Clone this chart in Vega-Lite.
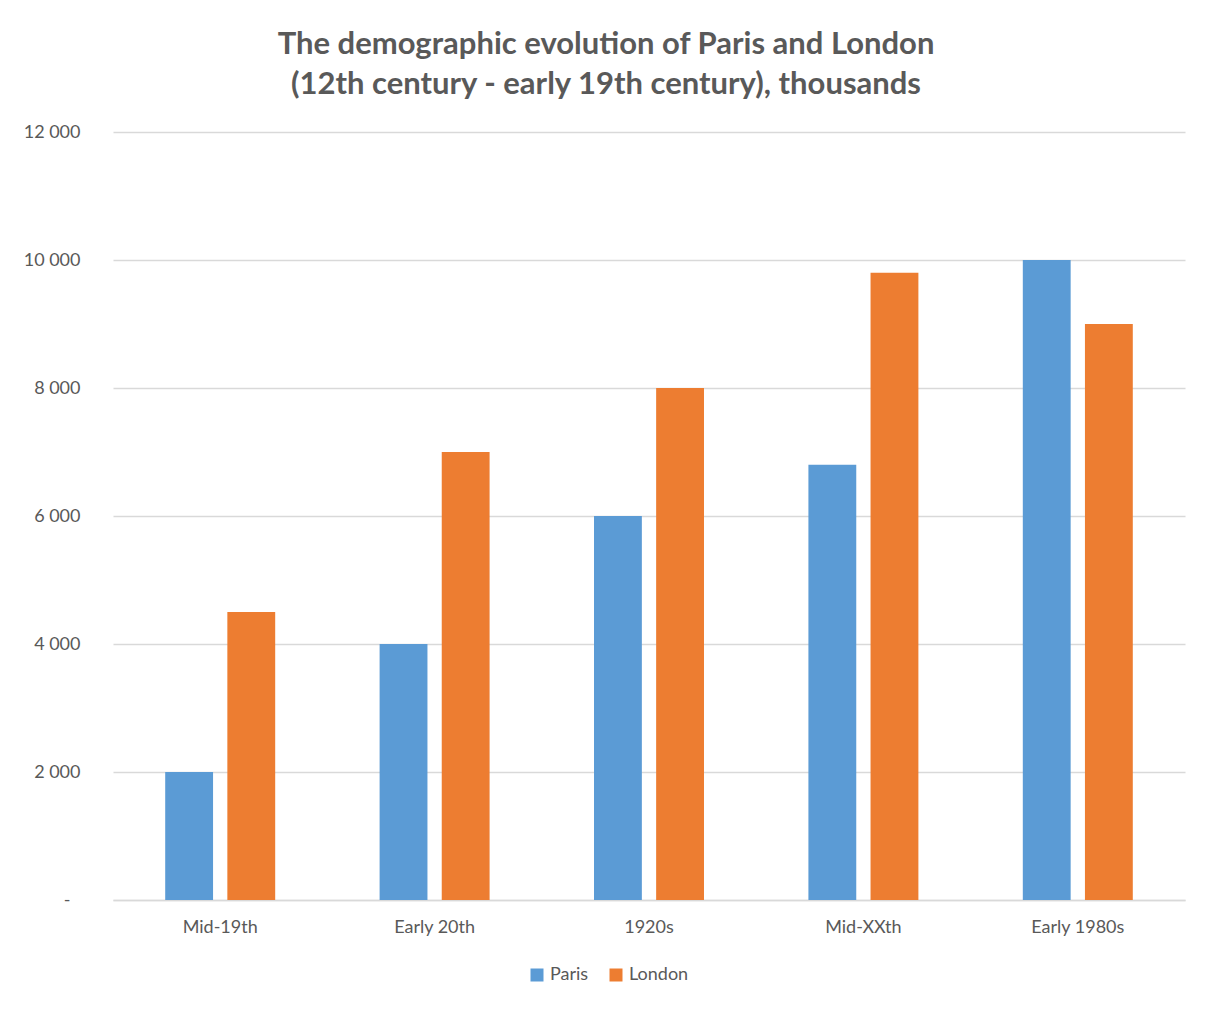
{
  "$schema": "https://vega.github.io/schema/vega-lite/v6.json",
  "autosize": {"type": "none"},
  "width": 1072,
  "height": 768,
  "padding": {"left": 113, "top": 132, "right": 26, "bottom": 110},
  "background": "white",
  "title": {
    "text": ["The demographic evolution of Paris and London", "(12th century - early 19th century), thousands"],
    "font": "Lato",
    "fontSize": 31,
    "fontWeight": "bold",
    "color": "#595959",
    "anchor": "middle",
    "dx": -43,
    "offset": 22,
    "lineHeight": 40
  },
  "data": {
    "values": [
      {"period": "Mid-19th", "city": "Paris", "value": 2000},
      {"period": "Mid-19th", "city": "London", "value": 4500},
      {"period": "Early 20th", "city": "Paris", "value": 4000},
      {"period": "Early 20th", "city": "London", "value": 7000},
      {"period": "1920s", "city": "Paris", "value": 6000},
      {"period": "1920s", "city": "London", "value": 8000},
      {"period": "Mid-XXth", "city": "Paris", "value": 6800},
      {"period": "Mid-XXth", "city": "London", "value": 9800},
      {"period": "Early 1980s", "city": "Paris", "value": 10000},
      {"period": "Early 1980s", "city": "London", "value": 9000}
    ]
  },
  "mark": {"type": "bar"},
  "encoding": {
    "x": {
      "field": "period",
      "type": "nominal",
      "sort": ["Mid-19th", "Early 20th", "1920s", "Mid-XXth", "Early 1980s"],
      "scale": {"paddingInner": 0.487, "paddingOuter": 0.2435},
      "axis": {
        "title": null,
        "labelAngle": 0,
        "labelFont": "Lato",
        "labelFontSize": 18,
        "labelColor": "#595959",
        "labelPadding": 18,
        "ticks": false,
        "domain": true,
        "domainColor": "#d9d9d9",
        "domainWidth": 1.5,
        "grid": false
      }
    },
    "xOffset": {
      "field": "city",
      "type": "nominal",
      "sort": ["Paris", "London"],
      "scale": {"paddingInner": 0.23, "paddingOuter": 0}
    },
    "y": {
      "field": "value",
      "type": "quantitative",
      "scale": {"domain": [0, 12000], "nice": false},
      "axis": {
        "title": null,
        "values": [0, 2000, 4000, 6000, 8000, 10000, 12000],
        "labelExpr": "datum.value === 0 ? '-' : replace(format(datum.value, ','), ',', ' ')",
        "labelFont": "Lato",
        "labelFontSize": 18,
        "labelColor": "#595959",
        "labelPadding": {"condition": {"test": "datum.value === 0", "value": 43}, "value": 33},
        "ticks": false,
        "domain": false,
        "grid": true,
        "gridColor": "#d9d9d9",
        "gridWidth": 1.5
      }
    },
    "color": {
      "field": "city",
      "type": "nominal",
      "sort": ["Paris", "London"],
      "scale": {"domain": ["Paris", "London"], "range": ["#5B9BD5", "#ED7D31"]},
      "legend": {
        "title": null,
        "orient": "none",
        "direction": "horizontal",
        "legendX": 415,
        "legendY": 834,
        "symbolType": "square",
        "symbolSize": 169,
        "symbolStrokeWidth": 0,
        "labelFont": "Lato",
        "labelFontSize": 18,
        "labelColor": "#595959",
        "labelOffset": 4,
        "columnPadding": 18
      }
    }
  },
  "config": {
    "view": {"stroke": null},
    "bar": {"opacity": 1}
  }
}
